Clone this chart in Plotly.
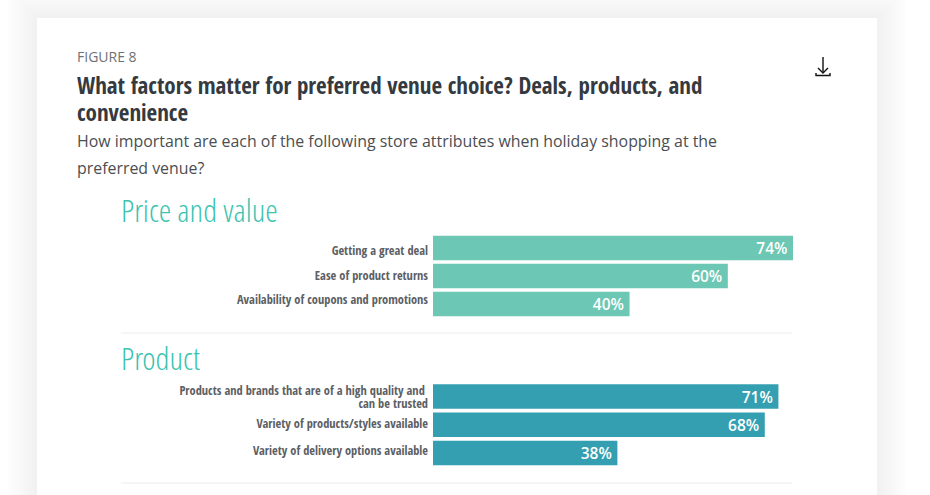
import plotly.graph_objects as go

W, H = 930, 495

# ---- data ----
figure_label = "FIGURE 8"
title_lines = ["What factors matter for preferred venue choice? Deals, products, and", "convenience"]
subtitle_lines = ["How important are each of the following store attributes when holiday shopping at the", "preferred venue?"]

price_title = "Price and value"
price_categories = ["Getting a great deal", "Ease of product returns", "Availability of coupons and promotions"]
price_values = [74, 60.6, 40.4]
price_labels = ["74%", "60%", "40%"]

product_title = "Product"
product_categories = ["Products and brands that are of a high quality and\u00a0<br>can be trusted",
                      "Variety of products/styles available", "Variety of delivery options available"]
product_values = [71, 68.2, 37.9]
product_labels = ["71%", "68%", "38%"]

# ---- style ----
NARROW = "Open Sans Condensed, Open Sans"
THIN = "Open Sans Condensed Light, Open Sans Light, Open Sans"
OPEN = "Open Sans"
TEAL_TITLE = "#3cc3b0"
PRICE_COLOR = "#6cc7b4"
PRODUCT_COLOR = "#349fb0"
X0, PX_PER_UNIT = 433, 4.865
LINE_PITCH = 13 / 28.2


def px(x):
    return x / W


def py(y):
    return 1 - y / H


fig = go.Figure()

groups = [
    (price_categories, price_values, price_labels, PRICE_COLOR, "y", "x", (234, 318), [0.08, -0.02, -0.14]),
    (product_categories, product_values, product_labels, PRODUCT_COLOR, "y2", "x2", (382.5, 467), [0.03, -0.04, -0.07]),
]
for cats, vals, labs, col, ya, xa, _, _ in groups:
    fig.add_trace(go.Bar(
        x=vals, y=list(range(len(cats))), orientation="h", yaxis=ya, xaxis=xa,
        marker=dict(color=col, line=dict(width=0)), width=0.87,
        text=labs, texttemplate="%{text}\u2009", textposition="inside", insidetextanchor="end", textangle=0,
        textfont=dict(family=OPEN, size=15.5, color="white", weight=600),
        constraintext="none", cliponaxis=False, showlegend=False, hoverinfo="skip",
    ))

xdomain = [px(X0), px(X0 + 100 * PX_PER_UNIT)]
axis_x = dict(domain=xdomain, range=[0, 100], visible=False, fixedrange=True)


def y_axis(cats, band, shifts):
    vals, texts = [], []
    for i, (cat, s) in enumerate(zip(cats, shifts)):
        lines = cat.split("<br>")
        for j, line in enumerate(lines):
            vals.append(i + s + (j - (len(lines) - 1) / 2) * LINE_PITCH)
            texts.append(line)
    return dict(
        domain=[py(band[1]), py(band[0])], range=[2.5, -0.5], fixedrange=True,
        tickmode="array", tickvals=vals, ticktext=texts,
        ticks="", showline=False, showgrid=False, zeroline=False, ticklabelstandoff=4,
        tickfont=dict(family=NARROW, size=12.4, color="#5c6064", weight="bold"),
    )


# ---- card, shadow, rules, icon ----
shapes = []
for i in range(14, 0, -1):
    d = i * 2.2
    shapes.append(dict(type="rect", xref="paper", yref="paper", layer="below",
                       x0=px(37 - d), x1=px(877 + d), y0=py(H + 60), y1=py(18 - d),
                       fillcolor="#000000", opacity=0.0045, line=dict(width=0)))
shapes.append(dict(type="rect", xref="paper", yref="paper", layer="below",
                   x0=px(37), x1=px(877), y0=py(H + 60), y1=py(18),
                   fillcolor="white", line=dict(width=0)))
for yy in (333, 483):
    shapes.append(dict(type="line", xref="paper", yref="paper", layer="below",
                       x0=px(121), x1=px(792), y0=py(yy), y1=py(yy),
                       line=dict(color="#ececec", width=1)))
icon = [[(823, 57), (823, 72.5)], [(818, 68), (823, 73), (828, 68)],
        [(816, 73), (816, 75.5), (830, 75.5), (830, 73)]]
for seg in icon:
    path = "M " + " L ".join(f"{px(a):.5f},{py(b):.5f}" for a, b in seg)
    shapes.append(dict(type="path", xref="paper", yref="paper", path=path,
                       line=dict(color="#111111", width=1.4)))


def note(text, x, y, family, size, color, weight="normal"):
    return dict(text=text, x=px(x), y=py(y), xref="paper", yref="paper", xanchor="left", yanchor="middle",
                showarrow=False, align="left", borderpad=0,
                font=dict(family=family, size=size, color=color, weight=weight))


annotations = [
    note(figure_label, 76, 57, OPEN, 14, "#6e7276"),
    note(title_lines[0], 76, 85, NARROW, 23, "#343a40", "bold"),
    note(title_lines[1], 76, 112, NARROW, 23, "#343a40", "bold"),
    note(subtitle_lines[0], 76, 141, OPEN, 15.9, "#4a4e52"),
    note(subtitle_lines[1], 76, 168, OPEN, 15.9, "#4a4e52"),
    note(price_title, 119.5, 209.5, THIN, 32, TEAL_TITLE, 300),
    note(product_title, 119.5, 357.5, THIN, 32, TEAL_TITLE, 300),
]

fig.update_layout(
    width=W, height=H, margin=dict(l=0, r=0, t=0, b=0, autoexpand=False),
    paper_bgcolor="white", plot_bgcolor="rgba(0,0,0,0)", showlegend=False, bargap=0.13,
    shapes=shapes, annotations=annotations,
    xaxis=dict(axis_x, anchor="y"), xaxis2=dict(axis_x, anchor="y2"),
    yaxis=dict(y_axis(price_categories, groups[0][6], groups[0][7]), anchor="x"),
    yaxis2=dict(y_axis(product_categories, groups[1][6], groups[1][7]), anchor="x2"),
)

post = """
document.body.style.margin='0';document.body.style.overflow='hidden';
var s=document.createElement('style');
s.textContent='text[style*="Condensed"]{font-stretch:75%;}';
document.head.appendChild(s);
"""
fig.write_html("out.html", config=dict(displayModeBar=False), post_script=post)
